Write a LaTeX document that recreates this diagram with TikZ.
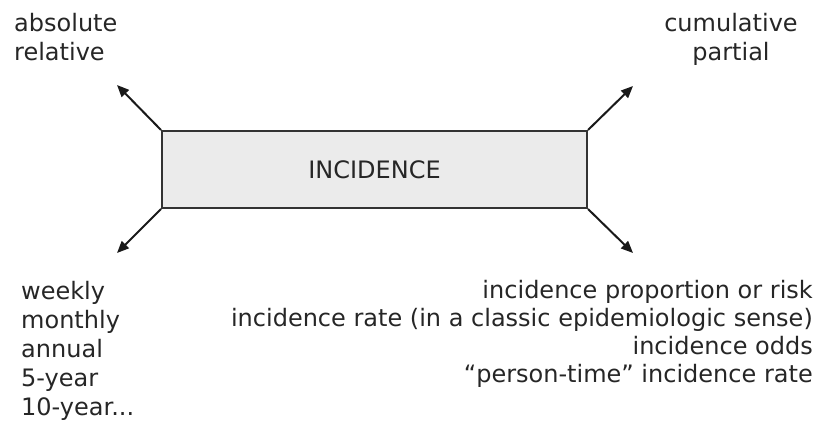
\documentclass[tikz,border=0pt]{standalone}
\usepackage{fontspec}
\setmainfont{DejaVu Sans}
\usetikzlibrary{arrows.meta}
\begin{document}
\begin{tikzpicture}[x=1pt,y=-1pt,
  every node/.style={text=black!85, inner sep=0pt},
  lbl/.style={font=\fontsize{24}{29}\selectfont},
  lblr/.style={font=\fontsize{24}{28}\selectfont},
  mainbox/.style={draw=black!80, line width=2pt, fill=black!8},
  arr/.style={line width=2pt, draw=black!90, -{Triangle[length=12pt,width=10pt]}}]
  \useasboundingbox (0,0) rectangle (819,428);
  % central box
  \node[mainbox, minimum width=425pt, minimum height=77pt,
        font=\fontsize{24}{29}\selectfont] (inc) at (374.5,169.5) {INCIDENCE};
  % arrow ends
  \coordinate (tl) at (117,85);
  \coordinate (tr) at (633,86);
  \coordinate (bl) at (117,253);
  \coordinate (br) at (633,253);
  \draw[arr] (inc.north west) -- (tl);
  \draw[arr] (inc.north east) -- (tr);
  \draw[arr] (inc.south west) -- (bl);
  \draw[arr] (inc.south east) -- (br);
  % labels (anchored at the baseline of their last line)
  \node[lbl, align=left, anchor=base west] (kind) at (14,61) {absolute\\relative};
  \node[lbl, align=center, anchor=base] (cum) at (731,61) {cumulative\\partial};
  \node[lbl, align=left, anchor=base west] (period) at (21,415)
    {weekly\\monthly\\annual\\5-year\\10-year...};
  \node[lblr, align=right, anchor=base east] (meas) at (813,382)
    {incidence proportion or risk\\incidence rate (in a classic epidemiologic sense)\\incidence odds\\“person-time” incidence rate};
\end{tikzpicture}
\end{document}
